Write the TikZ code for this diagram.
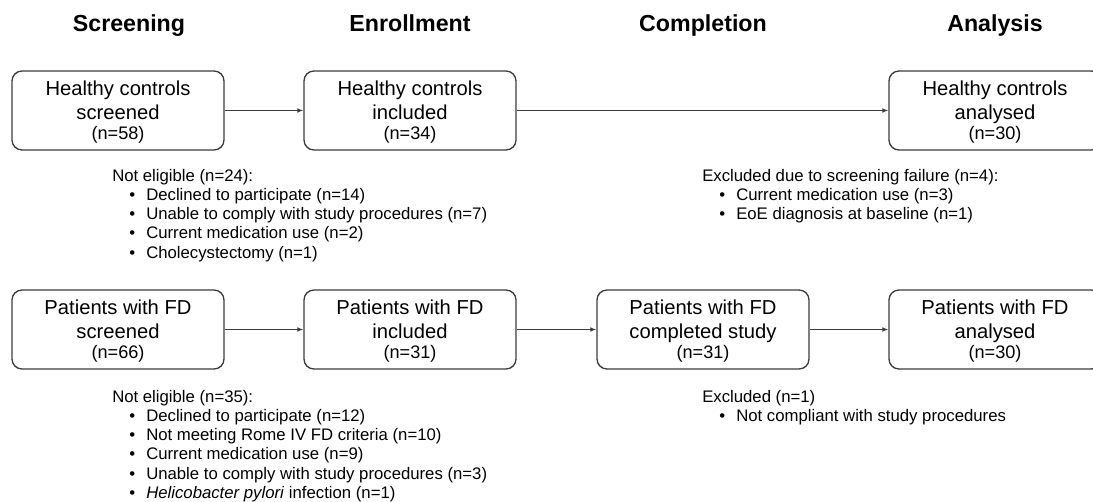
\documentclass[tikz,border=0pt]{standalone}
\usepackage{fontspec}
\setmainfont{Liberation Sans}
\usetikzlibrary{arrows.meta}
\definecolor{edge}{HTML}{3C3C3C}
\tikzset{
 box/.style={draw=edge, line width=1pt, rounded corners=7.5pt, minimum width=159pt, minimum height=59.25pt, align=center, inner sep=0pt, font=\fontsize{15.15pt}{18pt}\selectfont},
 phase/.style={anchor=base, inner sep=0pt, font=\fontsize{17.4pt}{20pt}\selectfont\bfseries},
 note/.style={align=left, anchor=north west, inner sep=0pt, font=\fontsize{12.55pt}{14.4pt}\selectfont},
 flow/.style={draw=edge, line width=0.9pt, -{Latex[length=4.5pt,width=3.6pt]}},
}
\newcommand\blitem[1]{\hspace*{12.75pt}\makebox[12.75pt][l]{\textbullet}#1}
\newcommand\smalln[1]{\fontsize{13.6pt}{18pt}\selectfont #1}
\newcommand\topline[1]{\rule{0pt}{14pt}#1}
\begin{document}
\begin{tikzpicture}[x=0.75pt,y=-0.75pt]
\useasboundingbox (0,0) rectangle (1093,502);
\clip (0,0) rectangle (1093,502);
% phase titles
\node[phase] (t1) at (129,32) {Screening};
\node[phase] (t2) at (410,32) {Enrollment};
\node[phase] (t3) at (703,32) {Completion};
\node[phase] (t4) at (995,32) {Analysis};
% healthy controls row
\node[box] (hcs) at (118,110.5) {\topline{Healthy controls}\\screened\\[-3pt]\smalln{(n=58)}};
\node[box] (hci) at (410,110.5) {\topline{Healthy controls}\\included\\[-3pt]\smalln{(n=34)}};
\node[box] (hca) at (995,110.5) {\topline{Healthy controls}\\analysed\\[-3pt]\smalln{(n=30)}};
% FD row
\node[box] (fds) at (118,329.5) {\topline{Patients with FD}\\screened\\[-3pt]\smalln{(n=66)}};
\node[box] (fdi) at (410,329.5) {\topline{Patients with FD}\\included\\[-3pt]\smalln{(n=31)}};
\node[box] (fdc) at (703,329.5) {\topline{Patients with FD}\\completed study\\[-3pt]\smalln{(n=31)}};
\node[box] (fda) at (995,329.5) {\topline{Patients with FD}\\analysed\\[-3pt]\smalln{(n=30)}};
% connectors
\draw[flow] (hcs.east) -- (hci.west);
\draw[flow] (hci.east) -- (hca.west);
\draw[flow] (fds.east) -- (fdi.west);
\draw[flow] (fdi.east) -- (fdc.west);
\draw[flow] (fdc.east) -- (fda.west);
% notes
\node[note] (n1) at (112,169) {Not eligible (n=24):\\
\blitem{Declined to participate (n=14)}\\
\blitem{Unable to comply with study procedures (n=7)}\\
\blitem{Current medication use (n=2)}\\
\blitem{Cholecystectomy (n=1)}};
\node[note] (n2) at (702,169) {Excluded due to screening failure (n=4):\\
\blitem{Current medication use (n=3)}\\
\blitem{EoE diagnosis at baseline (n=1)}};
\node[note] (n3) at (112,390) {Not eligible (n=35):\\
\blitem{Declined to participate (n=12)}\\
\blitem{Not meeting Rome IV FD criteria (n=10)}\\
\blitem{Current medication use (n=9)}\\
\blitem{Unable to comply with study procedures (n=3)}\\
\blitem{\textit{Helicobacter pylori} infection (n=1)}};
\node[note] (n4) at (702,390) {Excluded (n=1)\\
\blitem{Not compliant with study procedures}};
\end{tikzpicture}
\end{document}
